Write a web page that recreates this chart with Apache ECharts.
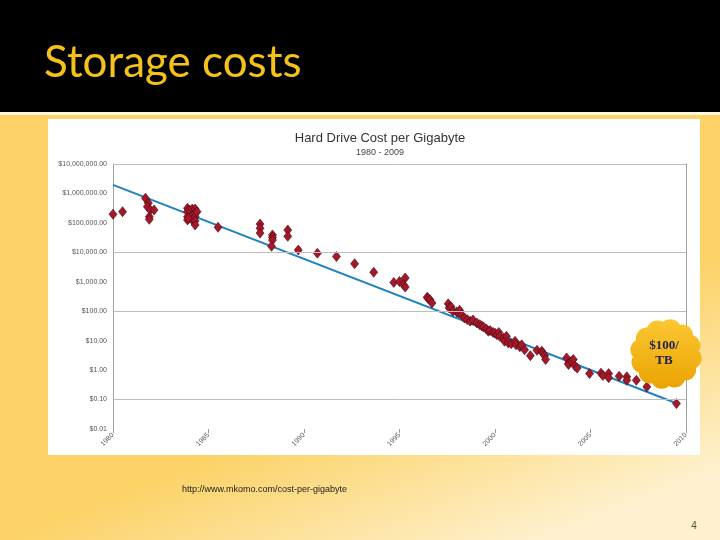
<!DOCTYPE html>
<html>
<head>
<meta charset="utf-8">
<script src="https://cdn.jsdelivr.net/npm/echarts@6/dist/echarts.min.js"></script>
<style>
html,body{margin:0;padding:0;background:#000;}
#c{width:720px;height:540px;}
</style>
</head>
<body>
<div id="c"></div>
<script>
// ---- data ----
const slideTitle = 'Storage costs';
const chartTitle = 'Hard Drive Cost per Gigabyte';
const chartSubtitle = '1980 - 2009';
const sourceText = 'http://www.mkomo.com/cost-per-gigabyte';
const pageNumber = '4';
const calloutText = '$100/\nTB';

const years = [
  1980.0, 1980.5, 1981.7, 1981.85, 1981.8, 1981.95, 1982.15, 1981.9, 1981.9,
  1983.9, 1983.9, 1983.9, 1983.9, 1984.0, 1984.0, 1984.15, 1984.15, 1984.15,
  1984.3, 1984.3, 1984.3, 1984.3, 1984.3, 1984.4, 1983.95,
  1985.5, 1987.7, 1987.7, 1987.7, 1988.35, 1988.35, 1988.35, 1988.3,
  1989.15, 1989.15, 1989.7, 1990.7, 1991.7, 1992.65, 1993.65,
  1994.7, 1995.0, 1995.3, 1995.2, 1995.3,
  1996.45, 1996.5, 1996.6, 1996.7,
  1997.55, 1997.6, 1997.7, 1997.8, 1998.0, 1998.1, 1998.15, 1998.25, 1998.4,
  1998.55, 1998.7, 1998.85, 1999.05, 1999.2, 1999.3, 1999.4, 1999.55, 1999.65,
  1999.75, 1999.9, 2000.0, 2000.1, 2000.2, 2000.25, 2000.45, 2000.5, 2000.6,
  2000.7, 2000.85, 2001.05, 2001.1, 2001.3, 2001.4, 2001.55, 2001.85,
  2002.2, 2002.45, 2002.5, 2002.6, 2002.65,
  2003.75, 2003.85, 2003.85, 2004.0, 2004.1, 2004.2, 2004.3,
  2004.95, 2005.55, 2005.65, 2005.95, 2005.95, 2006.5, 2006.9, 2006.9,
  2007.4, 2007.95, 2009.5
];
const costs = [
  197000, 240000, 690000, 470000, 355000, 275000, 275000, 162000, 132000,
  316000, 240000, 162000, 126000, 275000, 145000, 295000, 186000, 126000,
  295000, 214000, 162000, 117000, 85000, 240000, 145000,
  71000, 91000, 66000, 45000, 39000, 32000, 26000, 16000,
  57000, 35000, 12000, 9300, 7200, 4100, 2100,
  950, 1020, 1350, 800, 660,
  300, 270, 245, 190,
  178, 129, 141, 100, 95, 87, 107, 76, 59,
  52, 46, 50, 40, 35, 32, 29, 25, 21,
  22, 19, 18, 16, 19, 14, 12.3, 9.5, 14,
  8.3, 7.9, 9.5, 7.2, 6.2, 7.2, 4.9, 3.1,
  4.7, 4.4, 3.8, 3.1, 2.3,
  2.6, 1.7, 1.55, 2.0, 2.3, 1.35, 1.17,
  0.76, 0.79, 0.66, 0.76, 0.55, 0.62, 0.59, 0.45,
  0.45, 0.27, 0.073
];
const trendYears = [1980, 2009.5];
const trendCosts = [1950000, 0.075];
const gridValues = [10000000, 10000, 100, 0.1];
const xMin = 1980, xMax = 2010, xStep = 5;
const yMin = 0.01, yMax = 10000000;

// ---- chart ----
const chart = echarts.init(document.getElementById('c'), null, {renderer: 'canvas'});

function money(v) {
  const n = Number(Number(v).toPrecision(6));
  return '$' + n.toLocaleString('en-US', {minimumFractionDigits: 2, maximumFractionDigits: 2});
}

const points = years.map((y, i) => [y, costs[i]]);
const trend = trendYears.map((y, i) => [y, trendCosts[i]]);

// cloud bumps
const cloudCx = 666, cloudCy = 354;
const cloudGrad = new echarts.graphic.LinearGradient(0, 318, 0, 390, [
  {offset: 0, color: '#fcc833'}, {offset: 1, color: '#e9a300'}], true);
const cloudParts = [{type: 'ellipse', shape: {cx: cloudCx, cy: cloudCy, rx: 28, ry: 26}, style: {fill: cloudGrad}}];
for (let a = 10; a < 370; a += 30) {
  const r = a * Math.PI / 180;
  cloudParts.push({type: 'circle', shape: {cx: cloudCx + 25 * Math.cos(r), cy: cloudCy + 24 * Math.sin(r), r: 11}, style: {fill: cloudGrad}});
}

const bgGrad = new echarts.graphic.LinearGradient(186, 465, 262, 655, [
  {offset: 0, color: '#fcd266'}, {offset: 1, color: '#fef1cf'}], true);

chart.setOption({
  animation: false,
  backgroundColor: '#000',
  title: {
    text: chartTitle,
    subtext: chartSubtitle,
    left: 375,
    top: 127,
    textAlign: 'center',
    itemGap: 3,
    textStyle: {fontFamily: 'Liberation Sans', fontSize: 13, fontWeight: 'normal', color: '#333'},
    subtextStyle: {fontFamily: 'Liberation Sans', fontSize: 9, color: '#444'}
  },
  grid: {left: 113, right: 34, top: 164, bottom: 111, containLabel: false},
  xAxis: {
    type: 'value', min: xMin, max: xMax, interval: xStep,
    axisLine: {show: false},
    axisTick: {show: true, length: 4, lineStyle: {color: '#999'}},
    splitLine: {show: false},
    axisLabel: {rotate: 45, fontSize: 7, color: '#555', margin: 5, fontFamily: 'Liberation Sans', formatter: v => String(v)}
  },
  yAxis: [{
    type: 'log', logBase: 10, min: yMin, max: yMax, splitNumber: 9,
    axisLine: {show: true, lineStyle: {color: '#a0a0a0'}},
    axisTick: {show: false},
    splitLine: {show: false},
    minorSplitLine: {show: false},
    axisLabel: {fontSize: 7, color: '#555', margin: 6, fontFamily: 'Liberation Sans', formatter: money}
  }, {
    type: 'log', logBase: 10, min: yMin, max: yMax, position: 'right',
    axisLine: {show: true, lineStyle: {color: '#a0a0a0'}},
    axisTick: {show: false}, axisLabel: {show: false}, splitLine: {show: false}
  }],
  series: [{
    type: 'line',
    data: trend,
    showSymbol: false,
    z: 2,
    lineStyle: {color: '#1f83c1', width: 2},
    markLine: {
      silent: true, symbol: 'none', label: {show: false},
      lineStyle: {color: '#bdbdbd', width: 1, type: 'solid'},
      data: gridValues.map(v => ({yAxis: v}))
    }
  }, {
    type: 'scatter',
    data: points,
    symbol: 'diamond',
    symbolSize: [8, 10],
    z: 3,
    itemStyle: {color: '#a3182a', borderColor: '#4a0a12', borderWidth: 0.6, opacity: 1}
  }],
  graphic: [
    {type: 'rect', z: -10, silent: true, shape: {x: 0, y: 112, width: 720, height: 428}, style: {fill: bgGrad}},
    {type: 'rect', z: -10, silent: true, shape: {x: 0, y: 0, width: 720, height: 112}, style: {fill: '#000'}},
    {type: 'rect', z: -9, silent: true, shape: {x: 0, y: 112, width: 720, height: 3}, style: {fill: '#fff6dc'}},
    {type: 'rect', z: -8, silent: true, shape: {x: 48, y: 119, width: 652, height: 336}, style: {fill: '#ffffff'}},
    {type: 'text', z: 5, silent: true, style: {x: 44, y: 63, text: slideTitle, fill: '#f5c21a', fontFamily: 'Lato', fontSize: 44, textVerticalAlign: 'middle', verticalAlign: 'middle'}},
    {type: 'text', z: 5, silent: true, style: {x: 182, y: 490, text: sourceText, fill: '#222', fontFamily: 'Liberation Sans', fontSize: 9, verticalAlign: 'middle'}},
    {type: 'text', z: 5, silent: true, style: {x: 694, y: 526, text: pageNumber, fill: '#5a4a2a', fontFamily: 'Liberation Sans', fontSize: 10, align: 'center', verticalAlign: 'middle'}},
    {type: 'group', z: 100, silent: true, children: cloudParts.map(p => Object.assign({z: 100}, p))},
    {type: 'text', z: 101, silent: true, style: {x: 664, y: 353, text: calloutText, fill: '#22214d', fontFamily: 'Liberation Serif', fontWeight: 'bold', fontSize: 13, lineHeight: 15, align: 'center', verticalAlign: 'middle'}}
  ]
});
</script>
</body>
</html>
